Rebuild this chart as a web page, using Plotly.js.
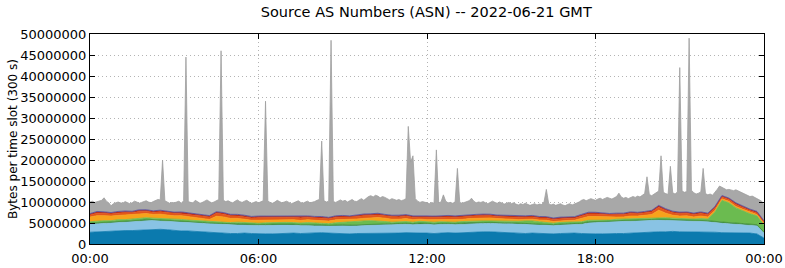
<!DOCTYPE html>
<html>
<head>
<meta charset="utf-8">
<script src="https://cdn.plot.ly/plotly-3.0.1.min.js"></script>
<style>html,body{margin:0;padding:0;background:#fff;}#chart{width:785px;height:268px;}</style>
</head>
<body>
<div id="chart"></div>
<script>
// Values in millions of bytes per 300 s slot.
// Lower layers: one value per 15 minutes (97 points, 00:00 .. 24:00)
const blueLayer = [
2.8,2.9,2.9,3.0, 3.1,3.2,3.2,3.3, 3.4,3.5,3.5,3.4, 3.2,3.1,3.1,3.0,
2.8,2.7,2.7,2.6, 2.5,2.5,2.6,2.5, 2.4,2.4,2.4,2.5, 2.5,2.6,2.5,2.6,
2.7,2.7,2.6,2.5, 2.5,2.4,2.5,2.5, 2.5,2.6,2.5,2.6, 2.6,2.7,2.6,2.6,
2.6,2.5,2.6,2.7, 2.6,2.7,2.8,2.8, 2.9,2.9,2.8,2.7, 2.6,2.6,2.5,2.6,
2.5,2.5,2.4,2.5, 2.6,2.6,2.5,2.4, 2.4,2.4,2.5,2.5, 2.5,2.6,2.7,2.8,
2.9,2.9,2.9,3.0, 2.9,2.9,2.8,2.8, 2.8,2.8,2.7,2.7, 2.7,2.6,2.6,2.4, 1.4];
const lightBlueLayer = [
1.9,1.9,2.0,2.0, 2.1,2.0,2.1,2.1, 2.2,2.1,2.0,2.0, 2.1,2.1,2.0,2.0,
2.1,2.1,2.0,2.0, 2.0,2.0,1.9,1.9, 2.0,2.0,2.1,2.0, 2.0,1.9,1.9,1.8,
1.6,1.6,1.6,1.8, 1.8,1.8,1.8,1.9, 2.0,1.9,2.1,2.0, 2.1,2.0,2.0,2.1,
2.1,2.1,2.1,2.0, 2.0,2.0,2.0,2.0, 2.0,2.0,2.0,2.1, 2.2,2.1,2.1,2.0,
2.0,2.0,2.0,2.0, 2.0,2.0,2.2,2.6, 2.7,2.8,2.7,2.8, 2.9,2.8,2.8,2.7,
2.7,2.8,2.7,2.6, 2.6,2.6,2.6,2.6, 2.5,2.3,2.2,2.1, 2.0,2.0,1.9,1.9, 1.2];
const darkGreenLayer = [
0.25,0.25,0.3,0.25, 0.25,0.2,0.25,0.25, 0.3,0.25,0.25,0.2, 0.25,0.25,0.3,0.25,
0.25,0.2,0.25,0.25, 0.25,0.3,0.25,0.25, 0.2,0.25,0.25,0.3, 0.25,0.25,0.2,0.25,
0.25,0.3,0.25,0.25, 0.3,0.3,0.25,0.25, 0.25,0.3,0.25,0.2, 0.25,0.25,0.25,0.3,
0.25,0.2,0.25,0.25, 0.25,0.25,0.3,0.25, 0.2,0.25,0.25,0.25, 0.25,0.3,0.3,0.25,
0.25,0.25,0.2,0.25, 0.25,0.25,0.25,0.3, 0.25,0.25,0.2,0.25, 0.25,0.3,0.25,0.25,
0.25,0.25,0.3,0.25, 0.25,0.25,0.25,0.3, 0.25,0.3,0.3,0.3, 0.3,0.3,0.3,0.3, 0.2];
const greenLayer = [
0.35,0.4,0.35,0.3, 0.35,0.4,0.35,0.4, 0.35,0.3,0.35,0.4, 0.35,0.4,0.3,0.35,
0.4,0.35,0.35,0.4, 0.35,0.4,0.35,0.3, 0.35,0.4,0.35,0.4, 0.4,0.35,0.4,0.45,
0.5,0.45,0.4,0.5, 0.6,0.8,0.9,0.85, 0.8,0.7,0.5,0.4, 0.35,0.4,0.35,0.4,
0.35,0.4,0.35,0.3, 0.35,0.4,0.35,0.4, 0.4,0.35,0.4,0.35, 0.35,0.4,0.6,0.65,
0.55,0.4,0.35,0.4, 0.35,0.3,0.35,0.35, 0.3,0.35,0.3,0.35, 0.3,0.35,0.3,0.3,
0.35,0.3,0.35,0.3, 0.3,0.35,0.3,0.35, 0.4,2.2,5.2,4.7, 3.6,3.0,2.4,2.1, 1.8];
const orangeLayer = [
1.1,1.3,1.2,1.1, 1.0,1.1,1.0,1.1, 1.0,0.9,1.0,0.9, 0.8,0.9,0.8,0.7,
0.6,0.5,1.3,1.2, 1.0,0.9,0.8,0.7, 0.7,0.6,0.7,0.6, 0.6,0.7,0.6,0.7,
0.6,0.5,0.6,0.7, 0.6,0.5,0.5,0.6, 0.7,0.8,0.8,0.7, 0.6,0.7,0.6,0.5,
0.5,0.6,0.5,0.6, 0.6,0.5,0.6,0.7, 0.6,0.7,0.6,0.5, 0.5,0.4,0.4,0.4,
0.4,0.5,0.4,0.4, 0.4,0.5,0.8,0.9, 0.9,0.7,0.6,0.5, 0.5,0.6,0.6,0.7,
0.8,1.8,1.1,0.7, 0.6,0.6,0.5,0.6, 0.5,0.4,0.35,0.35, 0.35,0.35,0.35,0.3, 0.3];
const redLayer = [
0.5,0.6,0.55,0.5, 0.55,0.6,0.55,0.6, 0.55,0.5,0.55,0.6, 0.55,0.5,0.55,0.6,
0.5,0.55,0.7,0.65, 0.6,0.55,0.6,0.55, 0.6,0.65,0.6,0.55, 0.6,0.55,0.6,0.55,
0.55,0.6,0.55,0.6, 0.6,0.55,0.6,0.65, 0.6,0.6,0.55,0.6, 0.55,0.6,0.55,0.5,
0.55,0.5,0.55,0.6, 0.55,0.6,0.55,0.55, 0.6,0.55,0.5,0.55, 0.5,0.55,0.5,0.55,
0.5,0.55,0.5,0.5, 0.55,0.5,0.55,0.6, 0.6,0.55,0.6,0.55, 0.55,0.6,0.55,0.6,
0.6,0.7,0.65,0.6, 0.55,0.6,0.55,0.6, 0.55,0.5,0.45,0.45, 0.45,0.45,0.4,0.4, 0.35];
const darkRedLayer = [
0.25,0.3,0.25,0.25, 0.3,0.25,0.25,0.3, 0.25,0.25,0.3,0.25, 0.25,0.3,0.25,0.25,
0.25,0.25,0.3,0.3, 0.25,0.3,0.25,0.25, 0.3,0.25,0.25,0.3, 0.25,0.25,0.3,0.25,
0.25,0.3,0.25,0.25, 0.3,0.25,0.25,0.3, 0.25,0.3,0.25,0.25, 0.3,0.25,0.25,0.25,
0.25,0.25,0.3,0.25, 0.25,0.3,0.25,0.25, 0.3,0.25,0.25,0.25, 0.25,0.25,0.2,0.25,
0.25,0.2,0.25,0.25, 0.25,0.25,0.3,0.3, 0.3,0.25,0.25,0.3, 0.25,0.3,0.25,0.3,
0.3,0.35,0.3,0.25, 0.3,0.25,0.25,0.3, 0.25,0.3,0.25,0.25, 0.3,0.25,0.25,0.25, 0.2];
const purpleLayer = [
0.1,0.1,0.12,0.1, 0.1,0.12,0.1,0.1, 0.12,0.1,0.1,0.12, 0.1,0.1,0.12,0.1,
0.1,0.12,0.1,0.1, 0.12,0.1,0.1,0.12, 0.1,0.1,0.12,0.1, 0.1,0.12,0.1,0.1,
0.12,0.1,0.1,0.12, 0.1,0.1,0.12,0.1, 0.1,0.12,0.1,0.1, 0.12,0.1,0.1,0.12,
0.1,0.1,0.12,0.1, 0.1,0.12,0.1,0.1, 0.12,0.1,0.1,0.12, 0.1,0.1,0.12,0.1,
0.1,0.12,0.1,0.1, 0.12,0.1,0.1,0.12, 0.1,0.1,0.12,0.1, 0.1,0.12,0.1,0.1,
0.12,0.1,0.1,0.12, 0.1,0.1,0.12,0.1, 0.1,0.12,0.1,0.1, 0.12,0.1,0.1,0.12, 0.1];

// Total (top of grey "other" layer): one value per 5-minute slot (289 points)
const totalBytes = [
10.0,10.2,9.9,10.1,10.3,10.4,11.0,10.2,9.8,9.1,9.6,9.9,
10.0,9.8,9.7,10.1,9.9,9.6,9.8,10.2,10.0,9.7,9.9,10.1,
10.3,10.0,9.8,10.1,10.4,10.6,10.5,20.0,10.3,10.0,9.7,9.9,
9.8,10.0,10.2,9.7,10.3,44.5,10.1,9.9,9.8,10.4,10.0,9.7,
9.9,10.2,10.5,10.1,9.8,10.0,10.3,10.6,46.0,10.4,10.1,10.3,
10.0,9.8,10.2,10.5,10.1,9.9,10.2,10.4,10.0,9.7,9.9,10.1,
9.8,10.0,10.3,34.0,10.2,9.9,9.7,10.0,10.4,10.1,9.8,10.0,
10.2,9.9,9.6,9.8,10.1,10.3,9.9,9.7,10.0,10.2,9.8,9.9,
10.1,10.4,10.6,24.5,10.3,10.0,10.2,48.5,10.1,9.9,10.3,10.5,
10.2,10.4,10.0,10.3,10.6,10.2,10.1,10.5,10.8,10.4,10.9,11.3,
11.5,11.2,11.6,11.4,11.0,11.3,11.1,10.7,10.5,10.8,10.6,10.4,
10.6,10.3,10.5,10.8,28.0,19.5,21.0,10.8,10.2,9.9,10.1,10.0,
9.8,9.6,9.9,9.7,22.4,9.8,10.0,11.7,10.2,9.8,9.9,9.7,
10.0,18.0,9.9,9.7,9.9,10.1,10.3,10.9,10.2,9.8,10.0,9.9,
10.1,9.8,9.6,9.9,10.2,9.9,9.7,10.0,9.8,9.5,9.7,9.9,
9.6,9.8,9.5,9.3,9.6,9.4,9.7,9.5,9.2,9.4,9.6,9.3,
9.5,9.4,10.0,13.0,9.6,9.3,9.5,9.2,9.4,9.6,9.3,9.1,
9.4,9.6,9.3,9.5,9.7,10.0,10.4,10.6,10.3,10.5,10.8,10.6,
10.4,10.7,10.9,10.6,10.8,11.1,10.9,10.7,11.0,11.3,12.1,11.2,
10.9,11.1,10.8,11.0,11.3,11.1,11.4,11.2,11.6,12.0,16.0,11.8,
11.5,11.9,12.2,12.6,21.0,12.3,12.0,11.8,18.5,12.2,11.9,12.4,
42.0,12.6,12.3,12.5,49.0,12.8,12.2,11.9,12.1,12.4,18.0,12.0,
11.7,11.9,11.6,12.2,13.0,13.8,13.5,13.1,12.9,13.0,12.8,12.7,
12.9,12.6,12.3,12.0,11.8,11.5,11.3,11.4,11.1,10.9,10.6,10.2,
9.3];

const xTickVals = [0, 6, 12, 18, 24];
const xTickText = ["00:00", "06:00", "12:00", "18:00", "00:00"];

const layers = [
  {v: blueLayer, c: '#0b7aae'},
  {v: lightBlueLayer, c: '#89c3e4'},
  {v: darkGreenLayer, c: '#3e8e36'},
  {v: greenLayer, c: '#6bbb50'},
  {v: orangeLayer, c: '#f7a21b'},
  {v: redLayer, c: '#e2561b'},
  {v: darkRedLayer, c: '#b5281d'},
  {v: purpleLayer, c: '#55509e'}
];

const M = 1e6;
const qX = blueLayer.map((_, i) => i * 0.25);
const slotX = totalBytes.map((_, i) => i * 5 / 60);
const cum = blueLayer.map(() => 0);
const traces = [];
layers.forEach((L, k) => {
  for (let i = 0; i < cum.length; i++) cum[i] += L.v[i];
  traces.push({
    x: qX, y: cum.map(v => v * M), type: 'scatter', mode: 'lines',
    line: {color: L.c, width: 0.8}, fill: k === 0 ? 'tozeroy' : 'tonexty',
    fillcolor: L.c, hoverinfo: 'skip'
  });
});
traces.push({
  x: slotX, y: totalBytes.map(v => v * M), type: 'scatter', mode: 'lines',
  line: {color: '#9e9e9e', width: 0.8}, fill: 'tonexty', fillcolor: '#a8a8a8',
  hoverinfo: 'skip'
});

const font = {family: 'DejaVu Sans', size: 13, color: '#000'};
const layout = {
  width: 785, height: 268,
  margin: {l: 90, r: 21, t: 34, b: 24, pad: 0},
  paper_bgcolor: '#fff', plot_bgcolor: '#fff',
  showlegend: false, hovermode: false,
  font: font,
  title: {text: 'Source AS Numbers (ASN) -- 2022-06-21 GMT', font: {family: 'DejaVu Sans', size: 14.5, color: '#000'}, x: 0.543, xanchor: 'center', y: 0.955, yanchor: 'middle'},
  xaxis: {
    range: [0, 24], tickvals: xTickVals, ticktext: xTickText,
    showline: true, linecolor: '#000', linewidth: 1, mirror: 'ticks',
    ticks: 'inside', ticklen: 5, tickcolor: '#000', ticklabelstandoff: 2,
    showgrid: true, gridcolor: '#b4b4b4', griddash: '1px,3px', gridwidth: 1,
    zeroline: false, tickfont: font, layer: 'above traces'
  },
  yaxis: {
    range: [0, 50e6], dtick: 5e6, tick0: 0, tickformat: 'd',
    showline: true, linecolor: '#000', linewidth: 1, mirror: 'ticks',
    ticks: 'inside', ticklen: 5, tickcolor: '#000',
    showgrid: true, gridcolor: '#b4b4b4', griddash: '1px,3px', gridwidth: 1,
    zeroline: false, tickfont: font, layer: 'above traces',
    title: {text: 'Bytes per time slot (300 s)', font: {family: 'DejaVu Sans', size: 12, color: '#000'}, standoff: 0}
  }
};
Plotly.newPlot('chart', traces, layout, {staticPlot: true, displayModeBar: false});
</script>
</body>
</html>
